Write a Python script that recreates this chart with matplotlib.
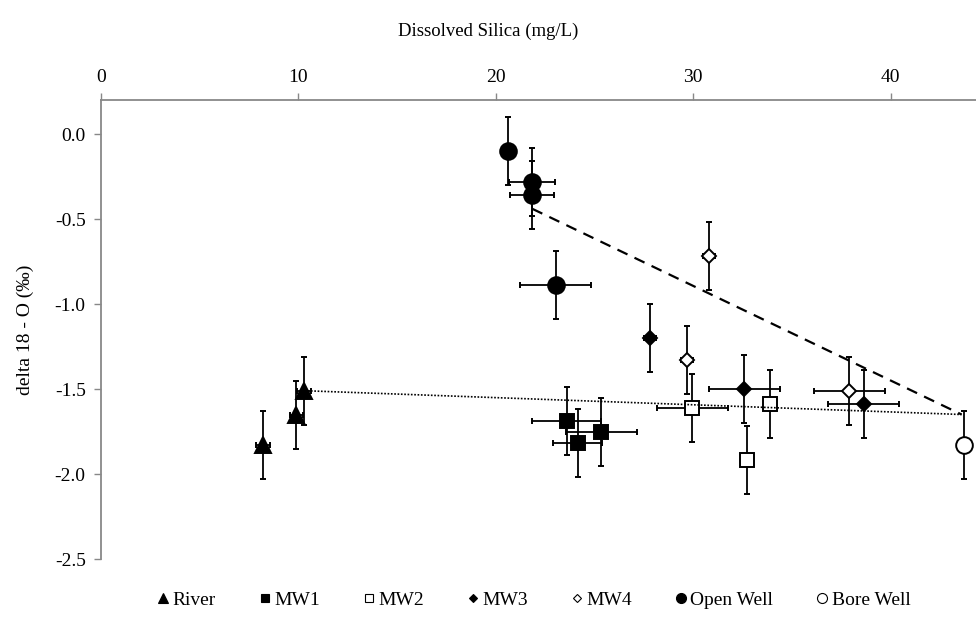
import numpy as np
import matplotlib
matplotlib.use("Agg")
import matplotlib.pyplot as plt
from matplotlib.lines import Line2D

plt.rcParams['font.family'] = ['Liberation Serif', 'DejaVu Serif']

# silica (mg/L), delta 18-O (permil), errors
river_x = [8.2, 9.9, 10.3]
river_y = [-1.83, -1.65, -1.51]
river_xerr = [0.35, 0.35, 0.35]

mw1_x = [23.6, 24.15, 25.35]
mw1_y = [-1.69, -1.82, -1.75]
mw1_xerr = [1.75, 1.25, 1.8]

mw2_x = [29.95, 32.75, 33.9]
mw2_y = [-1.61, -1.92, -1.59]
mw2_xerr = [1.8, 0.3, 0.3]

mw3_x = [27.8, 32.6, 38.65]
mw3_y = [-1.20, -1.50, -1.59]
mw3_xerr = [0.3, 1.8, 1.8]

mw4_x = [29.7, 30.8, 37.9]
mw4_y = [-1.33, -0.72, -1.51]
mw4_xerr = [0.3, 0.3, 1.8]

ow_x = [20.6, 21.85, 21.85, 23.05]
ow_y = [-0.10, -0.28, -0.36, -0.89]
ow_xerr = [0.3, 1.17, 1.12, 1.8]

bw_x = [43.7]
bw_y = [-1.83]
bw_xerr = [0.3]

yerr = 0.2

# mixing lines
dash_x = [21.85, 43.6]
dash_y = [-0.44, -1.65]
dot_x = [10.3, 43.6]
dot_y = [-1.51, -1.65]

fig = plt.figure(figsize=(9.76, 6.23), dpi=100)
ax = fig.add_axes([101 / 976, 64 / 623, 875 / 976, 459 / 623])

series = [
    ("River", river_x, river_y, river_xerr, '^', 'black', 11.5),
    ("MW1", mw1_x, mw1_y, mw1_xerr, 's', 'black', 10.5),
    ("MW2", mw2_x, mw2_y, mw2_xerr, 's', 'white', 10.5),
    ("MW3", mw3_x, mw3_y, mw3_xerr, 'D', 'black', 7.5),
    ("MW4", mw4_x, mw4_y, mw4_xerr, 'D', 'white', 7.5),
    ("Open Well", ow_x, ow_y, ow_xerr, 'o', 'black', 12),
    ("Bore Well", bw_x, bw_y, bw_xerr, 'o', 'white', 12),
]

handles = []
for name, x, y, xe, m, fc, ms in series:
    ax.errorbar(x, y, xerr=xe, yerr=yerr, fmt=m, ms=ms, mfc=fc, mec='black',
                mew=1.4, ecolor='black', elinewidth=1.3, capsize=2.5,
                capthick=1.3, zorder=3)
    handles.append(Line2D([], [], ls='none', marker=m, mfc=fc, mec='black',
                          mew=0.8, ms=ms * 0.6, label=name))

ax.plot(dash_x, dash_y, color='black', lw=1.6, ls=(0, (5, 3.5)), zorder=4)
ax.plot(dot_x, dot_y, color='black', lw=1.2, ls=(0, (1, 1)), zorder=4)

ax.set_xlim(0, 44.33)
ax.set_ylim(-2.5, 0.2)
ax.set_xticks([0, 10, 20, 30, 40])
ax.set_yticks([0.0, -0.5, -1.0, -1.5, -2.0, -2.5])
ax.set_yticklabels(['0.0', '-0.5', '-1.0', '-1.5', '-2.0', '-2.5'])
ax.xaxis.tick_top()
ax.xaxis.set_label_position('top')
ax.set_xlabel('Dissolved Silica (mg/L)', fontsize=13.5)
ax.xaxis.set_label_coords(0.443, 1.139)
ax.set_ylabel('delta 18 - O (‰)', fontsize=14, labelpad=15)

for s in ['bottom', 'right']:
    ax.spines[s].set_visible(False)
for s in ['top', 'left']:
    ax.spines[s].set_color('#888888')
    ax.spines[s].set_linewidth(1.3)
ax.tick_params(axis='both', direction='out', length=5, width=1,
               color='#888888', labelsize=14, pad=6)
ax.tick_params(axis='x', pad=5)

fig.legend(handles=handles, loc='lower center', ncol=7, frameon=False,
           bbox_to_anchor=(0.545, -0.005), fontsize=14, handletextpad=0.0,
           columnspacing=2.0, handlelength=1.0)

fig.savefig('out.png', dpi=100)
